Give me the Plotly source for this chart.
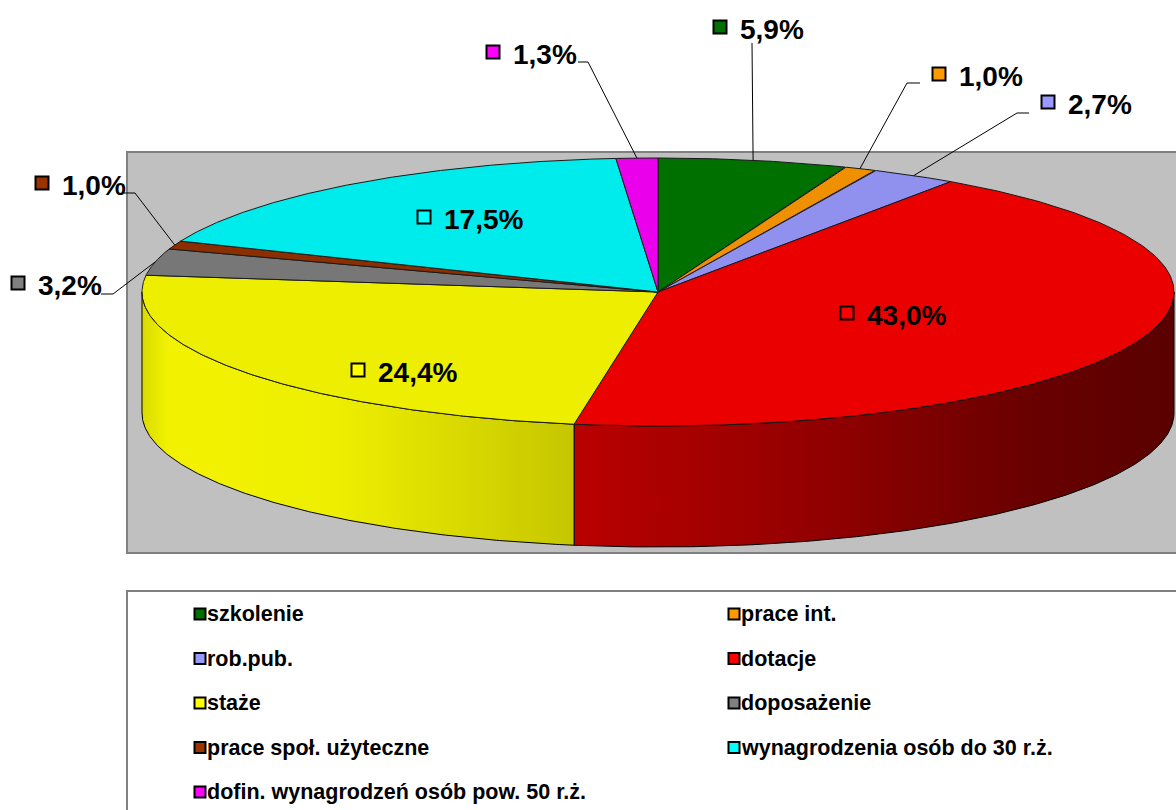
import numpy as np
import plotly.graph_objects as go

# ---------------- data ----------------
categories = [
    "szkolenie",
    "prace int.",
    "rob.pub.",
    "dotacje",
    "staże",
    "doposażenie",
    "prace społ. użyteczne",
    "wynagrodzenia osób do 30 r.ż.",
    "dofin. wynagrodzeń osób pow. 50 r.ż.",
]
values = [5.9, 1.0, 2.7, 43.0, 24.4, 3.2, 1.0, 17.5, 1.3]
top_colors = ["#007000", "#EE9000", "#9090EE", "#EB0000", "#EEEE00",
              "#777777", "#8B2E00", "#00EBEB", "#EB00EB"]
legend_colors = ["#007000", "#FF9900", "#9999FF", "#FF0000", "#FFFF00",
                 "#808080", "#993300", "#00FFFF", "#FF00FF"]
side_scales = {
    3: [[0, "#BA0000"], [0.45, "#8E0000"], [0.75, "#6A0000"], [1, "#5A0000"]],
    4: [[0, "#DADA00"], [0.06, "#F2F200"], [0.45, "#EEEE00"], [1, "#C6C600"]],
}

# ---------------- geometry (layout constants) ----------------
W, H = 1176, 810
CX, CY, RX, RY, DEPTH = 658, 292, 516, 134, 121
FONT = "Liberation Sans, Arial, sans-serif"

def pt(theta_deg, dy=0.0):
    t = np.radians(theta_deg)
    return CX + RX * np.sin(t), CY - RY * np.cos(t) + dy

total = sum(values)
cum = np.concatenate([[0], np.cumsum(values)]) / total * 360.0

fig = go.Figure()

# side walls (front half: 90..270 deg)
for i in range(len(values)):
    a0, a1 = max(cum[i], 90), min(cum[i + 1], 270)
    if a1 <= a0:
        continue
    th = np.linspace(a0, a1, 200)
    xt, yt = pt(th)
    xb, yb = pt(th[::-1], DEPTH)
    xs = np.concatenate([xt, xb, [xt[0]]])
    ys = np.concatenate([yt, yb, [yt[0]]])
    scale = side_scales.get(i, [[0, top_colors[i]], [1, top_colors[i]]])
    fig.add_trace(go.Scatter(
        x=xs, y=ys, mode="lines", fill="toself",
        fillgradient=dict(type="horizontal", colorscale=scale),
        line=dict(color="#000000", width=1), hoverinfo="skip", showlegend=False))

# top faces
for i in range(len(values)):
    th = np.linspace(cum[i], cum[i + 1], 200)
    xa, ya = pt(th)
    xs = np.concatenate([[CX], xa, [CX]])
    ys = np.concatenate([[CY], ya, [CY]])
    fig.add_trace(go.Scatter(
        x=xs, y=ys, mode="lines", fill="toself", fillcolor=top_colors[i],
        line=dict(color="#1a1a1a", width=1), name=categories[i],
        hoverinfo="name", showlegend=False))

# ---------------- data labels ----------------
label_pos = [(720, 27), (939, 74), (1048, 102), (847, 313), (358, 370),
             (18, 283), (42, 183), (424, 217), (493, 52)]
leader = [(752, 43, None), (920, 83, 907), (1029, 113, 1017), None, None,
          (101, 294, 113), (124, 193, 135), None, (578, 62, 588)]

for i, v in enumerate(values):
    mid = (cum[i] + cum[i + 1]) / 2
    ex, ey = pt(mid)
    if leader[i] is not None:
        sx, sy, elbow = leader[i]
        if elbow is None:
            lx, ly = [sx, ex], [sy, ey]
        else:
            lx, ly = [sx, elbow, ex], [sy, sy, ey]
        fig.add_trace(go.Scatter(x=lx, y=ly, mode="lines",
                                 line=dict(color="black", width=1),
                                 hoverinfo="skip", showlegend=False))
    qx, qy = label_pos[i]
    fig.add_trace(go.Scatter(
        x=[qx], y=[qy], mode="markers",
        marker=dict(symbol="square", size=13, color=legend_colors[i],
                    line=dict(color="black", width=2)),
        hoverinfo="skip", showlegend=False))
    txt = f"{v:.1f}".replace(".", ",") + "%"
    fig.add_annotation(x=qx + 18, y=qy + 2, text=txt, showarrow=False,
                       xanchor="left", yanchor="middle",
                       font=dict(family=FONT, size=28, color="black", weight="bold"))

# ---------------- legend (manual, two columns) ----------------
for i, name in enumerate(categories):
    col, row = i % 2, i // 2
    sx = 200 if col == 0 else 734
    sy = 614 + row * 44.5
    fig.add_trace(go.Scatter(
        x=[sx], y=[sy], mode="markers",
        marker=dict(symbol="square", size=11, color=legend_colors[i],
                    line=dict(color="black", width=2)),
        hoverinfo="skip", showlegend=False))
    fig.add_annotation(x=sx + 5, y=sy, text=name, showarrow=False,
                       xanchor="left", yanchor="middle",
                       font=dict(family=FONT, size=21.5, color="black", weight="bold"))

# ---------------- frames ----------------
fig.add_shape(type="rect", x0=127, y0=152, x1=1200, y1=553, layer="below",
              fillcolor="#C0C0C0", line=dict(color="#808080", width=2))
fig.add_shape(type="rect", x0=127, y0=591, x1=1200, y1=840, layer="below",
              fillcolor="white", line=dict(color="#808080", width=2))

fig.update_layout(
    width=W, height=H, margin=dict(l=0, r=0, t=0, b=0),
    paper_bgcolor="white", plot_bgcolor="white",
    xaxis=dict(range=[0, W], visible=False, fixedrange=True),
    yaxis=dict(range=[H, 0], visible=False, fixedrange=True),
    showlegend=False,
)

fig.write_html(
    "out.html",
    config={"displayModeBar": False},
    post_script="document.body.style.margin='0';document.body.style.overflow='hidden';",
)
